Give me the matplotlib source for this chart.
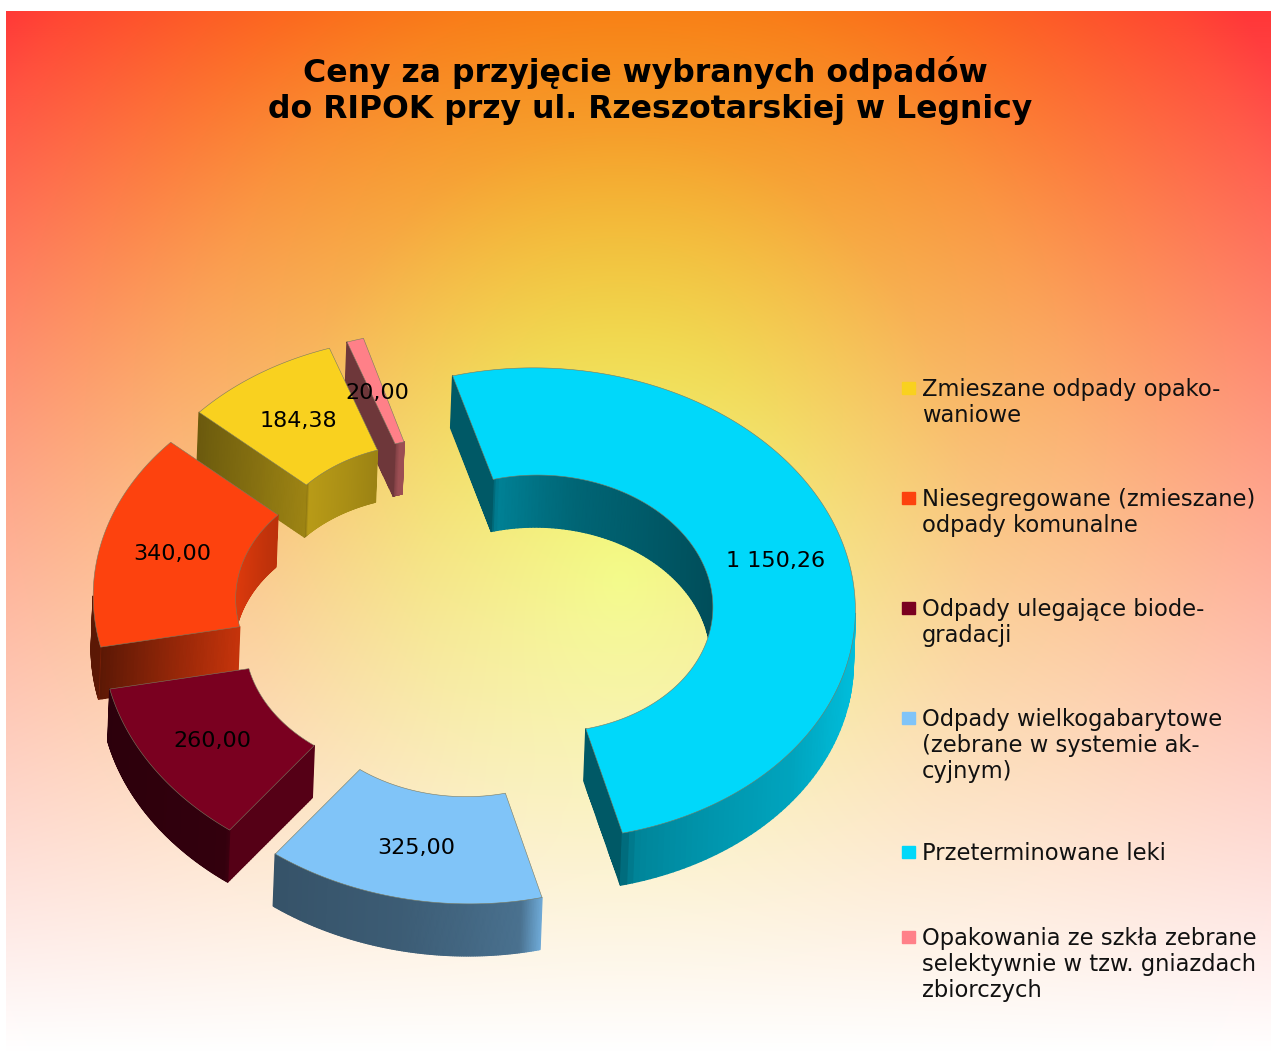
import matplotlib
matplotlib.use("Agg")
import matplotlib.pyplot as plt
from matplotlib.collections import PolyCollection
import numpy as np

title_lines = ["Ceny za przyjęcie wybranych odpadów", "do RIPOK przy ul. Rzeszotarskiej w Legnicy"]
values = [184.38, 340.00, 260.00, 325.00, 1150.26, 20.00]
value_labels = ["184,38", "340,00", "260,00", "325,00", "1 150,26", "20,00"]
legend_lines = [
    ["Zmieszane odpady opako-", "waniowe"],
    ["Niesegregowane (zmieszane)", "odpady komunalne"],
    ["Odpady ulegające biode-", "gradacji"],
    ["Odpady wielkogabarytowe", "(zebrane w systemie ak-", "cyjnym)"],
    ["Przeterminowane leki"],
    ["Opakowania ze szkła zebrane", "selektywnie w tzw. gniazdach", "zbiorczych"],
]
colors = ["#F9D11F", "#FD420E", "#7A0020", "#80C4F8", "#00D8FA", "#FF8088"]
# shade of the visible cut side, outer rim -> inner rim
cut_shades = [(0.43, 0.63), (0.36, 0.78), (0.70, 0.70), (0.5, 0.5), (0.41, 0.41), (0.43, 0.43)]
legend_baselines = [396, 506, 616, 726, 860, 945]

W, H = 1271, 1054
CX, CY = 474.5, 617.5
R_OUT, R_IN = 313.5, 171
SQUASH = 0.752
SHEAR = 0.02
DEPTH = 52
DEPTH_X = -2
EXPLODE = 70
START = 340.3


def background():
    y, x = np.mgrid[0:H, 0:W]
    d = np.hypot(x - 620, (y - 580) * 0.8)
    r = np.interp(d, [0, 200, 360, 560, 700], [230, 235, 245, 252, 255])
    g = np.interp(d, [0, 196, 360, 472, 560, 650, 720, 770], [246, 198, 145, 126, 105, 85, 70, 55])
    b = np.interp(d, [0, 200, 360, 560, 650, 770], [0, 0, 15, 30, 42, 56])
    w = np.clip((y - 11) / 1040, 0, 1)
    img = np.dstack([c * (1 - w) + 255 * w for c in (r, g, b)]) / 255
    img[:11] = 1
    img[:, :6] = 1
    return img


def light(nx):
    # brightness of a side wall from the x part of its normal
    return np.interp(nx, [-1, -0.6, -0.2, 0, 0.26, 0.5, 0.8, 1],
                     [0.36, 0.42, 0.47, 0.52, 0.6, 0.68, 0.76, 0.88])


def ring(cx, cy, r, theta):
    t = np.radians(theta)
    x = cx + r * np.sin(t)
    y = cy - r * SQUASH * np.cos(t)
    return np.column_stack([x, y + SHEAR * (x - 520)])


def shaded(base, s):
    return np.clip(np.outer(s, matplotlib.colors.to_rgb(base)), 0, 1)


def draw_strip(ax, top, cols):
    # one under polygon so that no seams show between the facets
    bottom = top + [DEPTH_X, DEPTH]
    under = np.vstack([top, bottom[::-1]])
    ax.fill(under[:, 0], under[:, 1], color=cols[len(cols) // 2], linewidth=0, zorder=2)
    quads = [[top[i], top[i + 1], bottom[i + 1], bottom[i]] for i in range(len(top) - 1)]
    ax.add_collection(PolyCollection(quads, facecolors=cols, edgecolors=cols, linewidths=1.0, zorder=2))


def draw_wall(ax, cx, cy, r, lo, hi, outer, base, blend):
    # outer wall shows on the front half, inner wall on the back half of the ring
    th = np.linspace(lo, hi, 160)
    c = np.cos(np.radians(th))
    keep = c <= 0 if outer else c >= 0
    if keep.sum() < 2:
        return
    th = th[keep]
    t = np.radians(th)
    nx = np.sin(t) if outer else -np.sin(t)
    s = light(nx)
    for end, target, width in blend:
        k = np.clip(1 - np.abs(th - end) / width, 0, 1)
        s = s * (1 - k) + target * k
    draw_strip(ax, ring(cx, cy, r, th), shaded(base, (s[:-1] + s[1:]) / 2))


def draw_cut(ax, cx, cy, theta, base, shades):
    fr = np.linspace(0, 1, 41)
    rr = R_OUT + (R_IN - R_OUT) * fr
    top = np.vstack([ring(cx, cy, q, np.array([theta]))[0] for q in rr])
    s = shades[0] + (shades[1] - shades[0]) * (fr[:-1] + fr[1:]) / 2
    draw_strip(ax, top, shaded(base, s))


fig = plt.figure(figsize=(W / 100, H / 100), dpi=100)
ax = fig.add_axes([0, 0, 1, 1])
ax.imshow(background(), extent=(0, W, H, 0), aspect="auto", interpolation="bilinear", zorder=0)

total = sum(values)
slices = []
hi = START
for i, v in enumerate(values):
    lo = hi - 360 * v / total
    mid = np.radians((lo + hi) / 2)
    cx = CX + EXPLODE * np.sin(mid)
    cy = CY - EXPLODE * SQUASH * np.cos(mid)
    slices.append((cy, i, lo, hi, cx))
    hi = lo

# back to front
for cy, i, lo, hi, cx in sorted(slices):
    base = colors[i]
    lo_r, hi_r = np.radians(lo), np.radians(hi)
    draw_wall(ax, cx, cy, R_IN, lo, hi, False, base, [(lo, 0.45, 2.0)])
    if np.sin(lo_r) < 0:
        draw_cut(ax, cx, cy, lo, base, cut_shades[i])
    if np.sin(hi_r) > 0:
        draw_cut(ax, cx, cy, hi, base, cut_shades[i])
    # rims pick up the neighbouring side near the corners
    blend = [(lo, 0.87, 4.0)] if np.sin(lo_r) > 0 else [(lo, 0.5, 1.0)]
    blend += [(hi, 0.47, 2.5)] if np.sin(hi_r) > 0 else []
    draw_wall(ax, cx, cy, R_OUT, lo, hi, True, base, blend)
    th = np.linspace(lo, hi, 200)
    poly = np.vstack([ring(cx, cy, R_OUT, th), ring(cx, cy, R_IN, th[::-1])])
    ax.fill(poly[:, 0], poly[:, 1], facecolor=base, edgecolor="#7A7A60", linewidth=0.4, zorder=2)

# value labels in the middle of each ring part
for cy, i, lo, hi, cx in slices:
    p = ring(cx, cy, (R_OUT + R_IN) / 2, np.array([(lo + hi) / 2]))[0]
    ax.text(p[0], p[1] + 2, value_labels[i], fontsize=16, color="black", ha="center", va="center", zorder=5)

ax.text(645, 82, title_lines[0], fontsize=22.7, fontweight="bold", ha="center", va="baseline", zorder=5)
ax.text(650.5, 118, title_lines[1], fontsize=22.7, fontweight="bold", ha="center", va="baseline", zorder=5)

for lines, base_y, col in zip(legend_lines, legend_baselines, colors):
    ax.fill([902, 915, 915, 902], [base_y - 14, base_y - 14, base_y - 2, base_y - 2], color=col, zorder=4)
    for k, line in enumerate(lines):
        ax.text(922, base_y + k * 26.2, line, fontsize=16.3, color="#111111", ha="left", va="baseline", zorder=5)

ax.set_xlim(0, W)
ax.set_ylim(H, 0)
ax.axis("off")
fig.savefig("out.png", dpi=100)
